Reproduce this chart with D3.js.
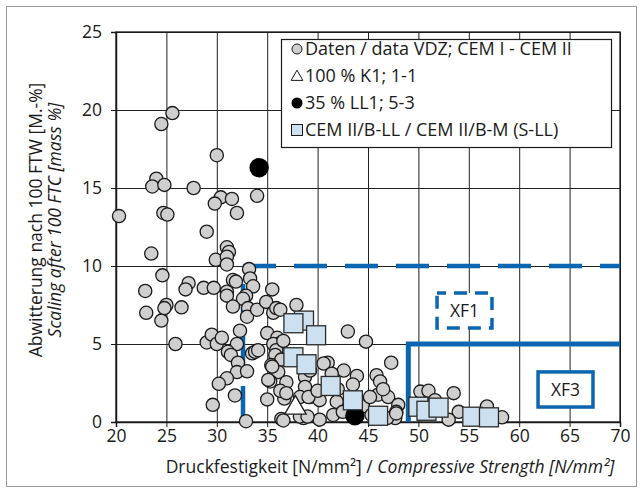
<!DOCTYPE html>
<html>
<head>
<meta charset="utf-8">
<script src="https://cdn.jsdelivr.net/npm/d3@7"></script>
<style>
  body { margin: 0; background: #fff; }
  text { font-family: "Open Sans", sans-serif; fill: #1a1a1a; }
</style>
</head>
<body>
<div id="chart"></div>
<script>
// Achsen
var xTicks = [20, 25, 30, 35, 40, 45, 50, 55, 60, 65, 70];
var yTicks = [0, 5, 10, 15, 20, 25];

// Daten VDZ; CEM I - CEM II  [Druckfestigkeit, Abwitterung]
var vdzData = [
  [25.6,19.8],[24.5,19.1],[30.0,17.1],[24.0,15.6],[23.6,15.1],[24.8,15.2],[27.7,15.0],
  [30.4,14.4],[31.5,14.3],[34.0,14.5],[29.8,14.0],[32.0,13.4],[20.3,13.2],[24.7,13.4],
  [25.1,13.3],[29.0,12.2],[23.5,10.8],[31.0,11.2],[31.2,10.9],[29.9,10.4],[31.0,10.6],
  [31.0,10.1],[33.2,9.8],[24.6,9.4],[22.9,8.4],[27.2,8.9],[26.9,8.5],[28.7,8.6],
  [29.7,8.6],[31.0,8.35],[31.0,8.1],[31.6,9.1],[31.9,9.0],[33.3,9.2],[33.6,8.7],
  [32.9,8.1],[32.6,7.9],[31.6,7.4],[33.1,7.3],[33.0,6.75],[34.0,7.2],[34.9,7.7],
  [35.5,8.5],[35.6,7.0],[35.9,7.3],[37.9,7.5],[23.0,7.0],[24.5,6.5],[25.0,7.5],
  [24.8,7.3],[26.5,7.35],[36.3,7.2],
  [25.9,5.0],[29.0,5.1],[29.5,5.6],[30.0,5.0],[30.5,5.4],[32.0,5.0],[32.3,5.85],
  [31.1,4.5],[31.4,4.3],[32.1,3.8],[32.0,3.2],[33.0,3.25],[33.5,4.4],[33.8,4.5],
  [34.1,4.6],[35.0,5.7],[36.0,5.4],[36.4,5.1],[35.6,5.0],[35.9,4.6],[35.8,4.3],
  [36.4,4.0],[35.4,3.65],[36.1,3.2],[35.5,3.55],[35.3,2.6],[35.1,2.7],[36.9,2.55],
  [31.0,2.8],[30.2,2.45],[31.8,1.7],[29.6,1.1],[35.0,1.45],[36.7,1.5],[32.9,0.05],
  [36.4,0.2],[36.6,0.1],[36.6,5.2],[36.3,2.0],
  [43.0,5.8],[44.8,5.15],[47.3,3.8],[41.0,3.8],[40.6,3.75],[42.6,3.3],[43.9,2.95],
  [45.85,3.0],[46.2,2.6],[43.5,2.4],[41.4,3.1],[38.75,2.9],[39.25,3.3],[38.75,2.25],
  [39.25,1.6],[40.2,1.4],[41.9,1.3],[46.0,1.75],[47.0,1.6],[48.0,1.1],[47.8,0.65],
  [47.7,0.25],[46.9,0.25],[38.6,0.25],[40.2,0.15],[41.55,0.45],[42.5,0.65],[44.5,1.0],
  [45.35,0.45],[38.25,0.35],[39.0,0.35],[38.25,1.6],[39.1,1.6],[36.9,1.85],[46.5,2.1],
  [45.2,1.6],[40.0,2.0],[42.0,2.1],
  [50.2,1.95],[51.0,2.0],[53.5,1.85],[51.65,1.4],[47.8,0.55],[54.0,0.65],[53.0,0.15],
  [56.8,1.0],[58.3,0.3]
];
// 100 % K1; 1-1
var k1Data = [[37.8, 0.9]];
// 35 % LL1; 5-3
var ll1Data = [[34.2, 16.3], [43.7, 0.4]];
// CEM II/B-LL / CEM II/B-M (S-LL)
var cemData = [
  [38.65,6.5],[37.6,6.33],[39.85,5.56],[37.6,4.15],[38.9,3.7],[41.3,2.31],[43.5,1.39],
  [46.0,0.4],[50.0,0.98],[50.8,0.72],[52.0,0.92],[55.35,0.34],[57.0,0.3]
];
// Expositionsklassen
var xf1Line = [[32.6, 0], [32.6, 10], [70, 10]];
var xf3Line = [[49, 0], [49, 5], [70, 5]];
var xfLabels = [
  {name: "XF1", x0: 51.85, x1: 57.3, y0: 6.03, y1: 8.27, dashed: true},
  {name: "XF3", x0: 61.87, x1: 67.32, y0: 0.96, y1: 3.21, dashed: false}
];
var legendItems = [
  {type: "circle", label: "Daten / data VDZ; CEM I - CEM II"},
  {type: "triangle", label: "100 % K1; 1-1"},
  {type: "dot", label: "35 % LL1; 5-3"},
  {type: "square", label: "CEM II/B-LL / CEM II/B-M (S-LL)"}
];

var blue = "#0a66b0";
var grey = "#cfcfcf";
var lightBlue = "#cde0ef";

var svg = d3.select("#chart").append("svg")
    .attr("width", 643)
    .attr("height", 492);

// Rahmen
svg.append("rect")
    .attr("x", 6.5).attr("y", 6.5)
    .attr("width", 630).attr("height", 480)
    .attr("fill", "none")
    .attr("stroke", "#9a9a9a");

var x = d3.scaleLinear().domain([20, 70]).range([116, 620]);
var y = d3.scaleLinear().domain([0, 25]).range([422, 32]);

// Gitternetz
svg.append("g")
    .attr("transform", "translate(0,422)")
    .call(d3.axisBottom(x).tickValues(xTicks).tickSize(-390).tickFormat(""))
    .call(g => g.select(".domain").remove())
    .selectAll("line").attr("stroke", "#222");
svg.append("g")
    .attr("transform", "translate(116,0)")
    .call(d3.axisLeft(y).tickValues(yTicks).tickSize(-504).tickFormat(""))
    .call(g => g.select(".domain").remove())
    .selectAll("line").attr("stroke", "#222");

// Achsen
var xAxis = svg.append("g")
    .attr("transform", "translate(0,422)")
    .call(d3.axisBottom(x).tickValues(xTicks).tickSize(5).tickPadding(3));
var yAxis = svg.append("g")
    .attr("transform", "translate(116,0)")
    .call(d3.axisLeft(y).tickValues(yTicks).tickSize(5).tickPadding(9));
[xAxis, yAxis].forEach(function(a) {
  a.selectAll("text").style("font-size", "17.5px").style("font-family", "Open Sans").attr("fill", "#1a1a1a");
  a.selectAll("line").attr("stroke", "#1a1a1a");
  a.select(".domain").attr("stroke", "#1a1a1a").attr("stroke-width", 1.5);
});

// Plotrahmen
svg.append("rect")
    .attr("x", x(20)).attr("y", y(25))
    .attr("width", x(70) - x(20)).attr("height", y(0) - y(25))
    .attr("fill", "none").attr("stroke", "#1a1a1a").attr("stroke-width", 1.3);

// XF-Grenzen
var line = d3.line().x(d => x(d[0])).y(d => y(d[1]));
svg.append("path")
    .attr("d", line(xf1Line))
    .attr("fill", "none").attr("stroke", blue).attr("stroke-width", 4.5)
    .attr("stroke-dasharray", "33,18").attr("stroke-dashoffset", 48);
svg.append("path")
    .attr("d", line(xf3Line))
    .attr("fill", "none").attr("stroke", blue).attr("stroke-width", 5)
    .attr("stroke-linejoin", "miter");

// XF Beschriftungen
xfLabels.forEach(function(d) {
  svg.append("rect")
      .attr("x", x(d.x0)).attr("y", y(d.y1))
      .attr("width", x(d.x1) - x(d.x0)).attr("height", y(d.y0) - y(d.y1))
      .attr("fill", "#fff").attr("stroke", blue).attr("stroke-width", 3.5)
      .attr("stroke-dasharray", d.dashed ? "13,8" : null)
      .attr("stroke-dashoffset", d.dashed ? 4 : null);
  svg.append("text")
      .attr("x", (x(d.x0) + x(d.x1)) / 2)
      .attr("y", (y(d.y0) + y(d.y1)) / 2)
      .attr("dy", "0.36em")
      .style("text-anchor", "middle")
      .style("font-size", "17.5px")
      .text(d.name);
});

// Punkte
svg.append("g").selectAll("circle")
    .data(vdzData).enter().append("circle")
    .attr("cx", d => x(d[0])).attr("cy", d => y(d[1]))
    .attr("r", 6.6)
    .attr("fill", grey).attr("stroke", "#1a1a1a").attr("stroke-width", 1.3);

var tri = d3.symbol().type(d3.symbolTriangle).size(200);
svg.append("g").selectAll("path")
    .data(k1Data).enter().append("path")
    .attr("d", tri)
    .attr("transform", d => "translate(" + x(d[0]) + "," + y(d[1]) + ")")
    .attr("fill", "#fff").attr("stroke", "#1a1a1a").attr("stroke-width", 1.3);

svg.append("g").selectAll("circle")
    .data(ll1Data).enter().append("circle")
    .attr("cx", d => x(d[0])).attr("cy", d => y(d[1]))
    .attr("r", 9.7)
    .attr("fill", "#000");

svg.append("g").selectAll("rect")
    .data(cemData).enter().append("rect")
    .attr("x", d => x(d[0]) - 9.5).attr("y", d => y(d[1]) - 9.5)
    .attr("width", 19).attr("height", 19)
    .attr("fill", lightBlue).attr("stroke", "#2a2a2a").attr("stroke-width", 1.3);

// Legende
var legend = svg.append("g").attr("transform", "translate(281,39)");
legend.append("rect")
    .attr("x", 0.5).attr("y", 0.5)
    .attr("width", 330).attr("height", 108)
    .attr("fill", "#fff").attr("stroke", "#1a1a1a").attr("stroke-width", 1.2);
legendItems.forEach(function(d, i) {
  var cy = 10 + i * 27;
  var g = legend.append("g").attr("transform", "translate(16," + cy + ")");
  if (d.type === "circle") {
    g.append("circle").attr("r", 5).attr("fill", grey).attr("stroke", "#1a1a1a").attr("stroke-width", 1);
  } else if (d.type === "triangle") {
    g.append("path").attr("d", d3.symbol().type(d3.symbolTriangle).size(60))
      .attr("transform", "translate(0,1)")
      .attr("fill", "#fff").attr("stroke", "#1a1a1a").attr("stroke-width", 1);
  } else if (d.type === "dot") {
    g.append("circle").attr("r", 5.5).attr("fill", "#000");
  } else {
    g.append("rect").attr("x", -5.5).attr("y", -5.5).attr("width", 11).attr("height", 11)
      .attr("fill", lightBlue).attr("stroke", "#1a1a1a").attr("stroke-width", 1);
  }
  legend.append("text")
      .attr("x", 24)
      .attr("y", cy)
      .attr("dy", "0.36em")
      .style("font-size", "18px")
      .text(d.label);
});

// Achsentitel
var xt = svg.append("text")
    .attr("x", 390).attr("y", 473)
    .style("text-anchor", "middle")
    .style("font-size", "17.5px");
xt.append("tspan").text("Druckfestigkeit [N/mm²] / ");
xt.append("tspan").style("font-style", "italic").text("Compressive Strength [N/mm²]");

svg.append("text")
    .attr("transform", "translate(42,220) rotate(-90)")
    .style("text-anchor", "middle")
    .style("font-size", "17.5px")
    .text("Abwitterung nach 100 FTW [M.-%]");
svg.append("text")
    .attr("transform", "translate(61,220) rotate(-90)")
    .style("text-anchor", "middle")
    .style("font-size", "17.5px")
    .style("font-style", "italic")
    .text("Scaling after 100 FTC [mass %]");
</script>
</body>
</html>
